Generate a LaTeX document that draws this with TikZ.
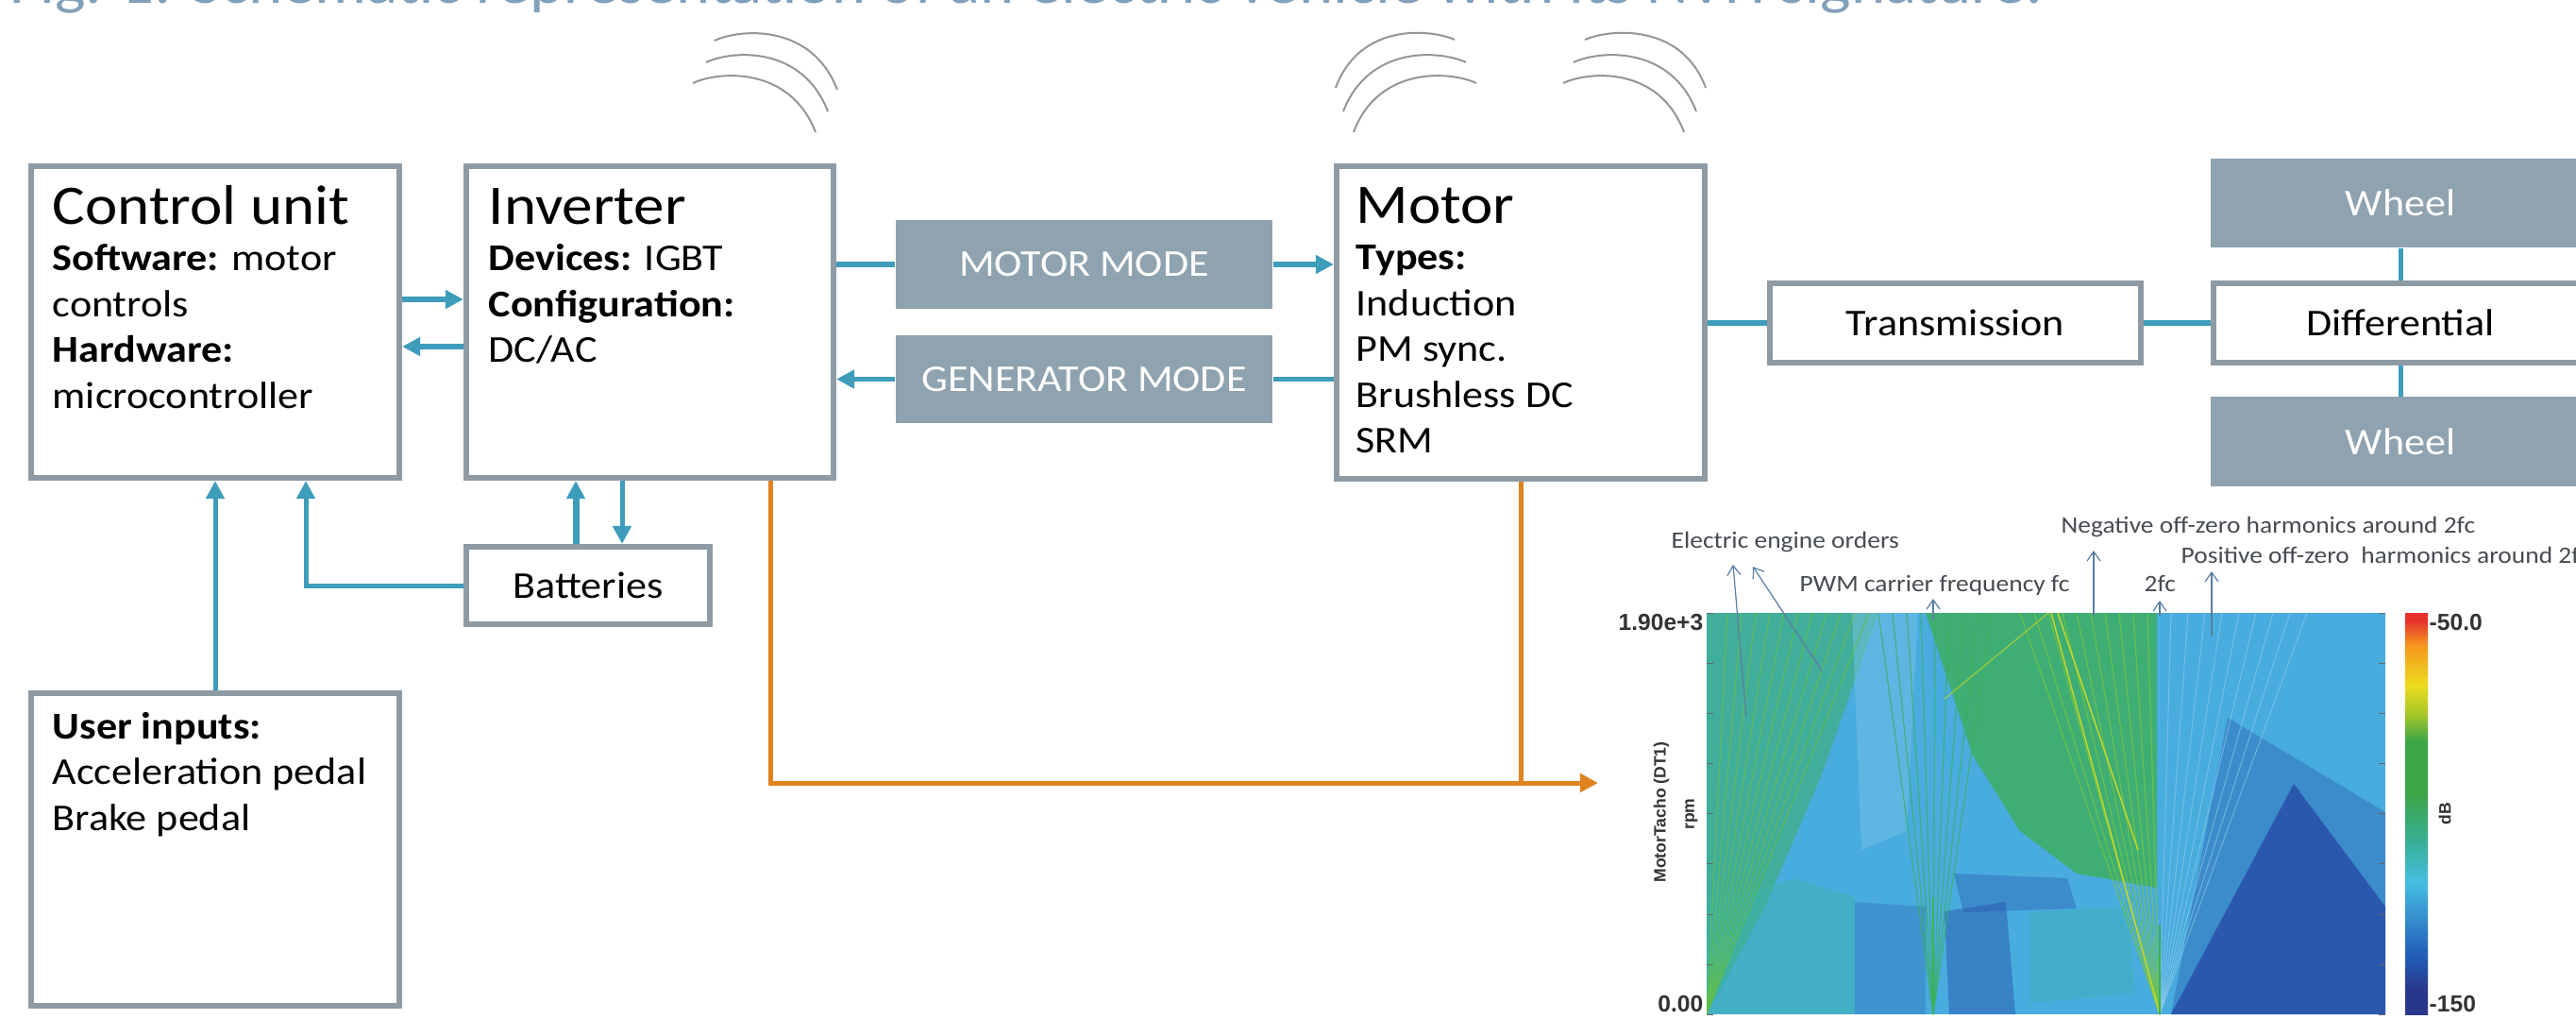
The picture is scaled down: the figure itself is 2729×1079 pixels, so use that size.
\documentclass[tikz,border=0pt]{standalone}
\usepackage{fontspec}
\setmainfont[FakeStretch=1.1]{Carlito}
\newfontfamily\axfont{Liberation Sans}
\usetikzlibrary{arrows.meta,calc}
\definecolor{boxgray}{RGB}{142,155,165}
\definecolor{fillgray}{RGB}{143,162,175}
\definecolor{conteal}{RGB}{62,157,187}
\definecolor{conorange}{RGB}{224,130,30}
\definecolor{titleblue}{RGB}{130,160,185}
\definecolor{arcgray}{RGB}{150,150,150}
\definecolor{annot}{RGB}{70,75,82}
\definecolor{annarrow}{RGB}{90,125,165}
\definecolor{spcyan}{RGB}{72,172,222}
\definecolor{spgreen}{RGB}{60,175,90}
\definecolor{spdark}{RGB}{40,80,170}
\definecolor{spteal}{RGB}{60,180,170}
\definecolor{spyellow}{RGB}{200,215,40}
\definecolor{jA}{RGB}{40,55,140}
\definecolor{jB}{RGB}{35,95,185}
\definecolor{jD}{RGB}{70,190,225}
\definecolor{jE}{RGB}{55,175,150}
\definecolor{jF}{RGB}{60,165,70}
\definecolor{jG}{RGB}{170,200,40}
\definecolor{jH}{RGB}{235,220,30}
\definecolor{jI}{RGB}{245,150,30}
\definecolor{jJ}{RGB}{230,50,45}
\pgfdeclareverticalshading{jetbar}{100bp}{color(0bp)=(jA); color(28bp)=(jA); color(32.5bp)=(jB); color(41.5bp)=(jD); color(46.5bp)=(jE); color(52.5bp)=(jF); color(59bp)=(jF); color(62.5bp)=(jG); color(66bp)=(jH); color(71bp)=(jI); color(74bp)=(jJ); color(100bp)=(jJ)}
\newcommand\tfnt{\fontsize{16.8pt}{20pt}\selectfont}
\newcommand\bfnt{\fontsize{11.4pt}{13.8pt}\selectfont}
\newcommand\afnt{\fontsize{7.1pt}{8.5pt}\selectfont}
\newcommand\xfnt{\axfont\bfseries\fontsize{7pt}{8pt}\selectfont}
\newcommand\yfnt{\axfont\bfseries\fontsize{5pt}{6pt}\selectfont}
\begin{document}
\begin{tikzpicture}[x=0.01cm, y=-0.01cm,
  wbox/.style={draw=boxgray, line width=0.06cm, fill=white, inner sep=0},
  gbox/.style={fill=fillgray, inner sep=0, text=white, font=\bfnt},
  txt/.style={inner sep=0, anchor=base west},
  con/.style={draw=conteal, line width=0.05cm},
  arr/.style={con, -{Triangle[length=0.19cm,width=0.19cm]}},
  ocon/.style={draw=conorange, line width=0.05cm},
  oarr/.style={ocon, -{Triangle[length=0.19cm,width=0.19cm]}},
  wave/.style={draw=arcgray, line width=0.02cm},
  ann/.style={inner sep=0, anchor=base west, text=annot, font=\afnt},
  annar/.style={draw=annarrow, line width=0.012cm, -{Straight Barb[length=0.1cm,width=0.14cm]}},
  axl/.style={inner sep=0, text=black!80, font=\xfnt},
  ayl/.style={inner sep=0, text=black!80, font=\yfnt}]
\useasboundingbox (0,0) rectangle (2729,1079);
\clip (0,0) rectangle (2729,1079);
\fill[white] (0,0) rectangle (2729,1079);

% title (clipped at top)
\node[inner sep=0, anchor=base west, text=titleblue, font=\fontsize{17.8pt}{20pt}\selectfont] (fig) at (10,4) {Fig. 1: Schematic representation of an electric vehicle with its NVH signature.};

% wave arcs
\draw[wave] (757,43) .. controls (785,30) and (860,25) .. (887,95);
\draw[wave] (748,66) .. controls (776,53) and (850,48) .. (877,118);
\draw[wave] (734,88) .. controls (762,75) and (837,70) .. (864,140);
\draw[wave] (1541,42) .. controls (1513,30) and (1440,25) .. (1415,93);
\draw[wave] (1553,66) .. controls (1525,53) and (1450,48) .. (1423,118);
\draw[wave] (1564,88) .. controls (1536,75) and (1460,70) .. (1434,140);
\draw[wave] (1679,42) .. controls (1707,30) and (1782,25) .. (1807,93);
\draw[wave] (1667,66) .. controls (1695,53) and (1770,48) .. (1797,118);
\draw[wave] (1656,88) .. controls (1684,75) and (1758,70) .. (1784,140);

% boxes
\node[wbox, minimum width=3.90cm, minimum height=3.30cm] (cu) at (228,341) {};
\node[wbox, minimum width=3.89cm, minimum height=3.30cm] (inv) at (688.5,341) {};
\node[wbox, minimum width=3.90cm, minimum height=3.31cm] (mot) at (1611,341.5) {};
\node[wbox, minimum width=3.90cm, minimum height=3.31cm] (ui) at (228,899.5) {};
\node[wbox, minimum width=2.58cm, minimum height=0.82cm, font=\bfnt] (bat) at (623,620) {Batteries};
\node[wbox, minimum width=3.93cm, minimum height=0.84cm, font=\bfnt] (tr) at (2071.5,342) {Transmission};
\node[wbox, minimum width=3.96cm, minimum height=0.84cm, font=\bfnt] (dif) at (2543,342) {Differential};
\node[gbox, minimum width=3.99cm, minimum height=0.94cm] (mm) at (1148.5,280) {MOTOR MODE};
\node[gbox, minimum width=3.99cm, minimum height=0.93cm] (gm) at (1148.5,401.5) {GENERATOR MODE};
\node[gbox, minimum width=4.02cm, minimum height=0.94cm] (w1) at (2543,215) {Wheel};
\node[gbox, minimum width=4.02cm, minimum height=0.94cm] (w2) at (2543,467.5) {Wheel};

% box texts
\node[txt] (cut) at (55,238) {\parbox[t]{3.7cm}{\raggedright\tfnt Control unit\par\bfnt\textbf{Software:} motor\\controls\\\textbf{Hardware:}\\microcontroller}};
\node[txt] (invt) at (517,238) {\parbox[t]{3.6cm}{\raggedright\tfnt Inverter\par\bfnt\textbf{Devices:} IGBT\\\textbf{Configuration:}\\DC/AC}};
\node[txt] (mott) at (1436,237) {\parbox[t]{3.6cm}{\raggedright\tfnt Motor\par\bfnt\textbf{Types:}\\Induction\\PM sync.\\Brushless DC\\SRM}};
\node[txt] (uit) at (55,782) {\parbox[t]{3.7cm}{\raggedright\bfnt\textbf{User inputs:}\\Acceleration pedal\\Brake pedal}};

% helper coordinates
\coordinate (bx1) at (610,0);
\coordinate (bx2) at (659,0);
\coordinate (ox) at (816,0);
\coordinate (bcu) at (324,0);
\coordinate (spec) at (1693,829);

% teal connectors
\draw[arr] ($(cu.east)+(0,-24)$) -- ($(inv.west)+(0,-24)$);
\draw[arr] ($(inv.west)+(0,26)$) -- ($(cu.east)+(0,26)$);
\draw[con] (inv.east |- mm.west) -- (mm.west);
\draw[arr] (mm.east) -- (mot.west |- mm.east);
\draw[con] (mot.west |- gm.east) -- (gm.east);
\draw[arr] (gm.west) -- (inv.east |- gm.west);
\draw[con] (mot.east |- tr.west) -- (tr.west);
\draw[con] (tr.east) -- (dif.west);
\draw[con] (dif.north) -- (w1.south);
\draw[con] (dif.south) -- (w2.north);
\draw[arr] (ui.north) -- (cu.south);
\draw[arr] (bat.west) -| (cu.south -| bcu);
\draw[arr, line width=0.07cm] (bat.north -| bx1) -- (inv.south -| bx1);
\draw[arr] (inv.south -| bx2) -- (bat.north -| bx2);

% orange connectors
\draw[oarr] (inv.south -| ox) |- (spec);
\draw[ocon] (mot.south) -- (mot.south |- spec);

% spectrogram
\fill[spcyan] (1808,649) rectangle (2527,1074);
\begin{scope}
\clip (1808,649) rectangle (2527,1074);
\fill[spgreen, opacity=0.5] (1808,649) -- (1990,649) -- (1930,820) -- (1870,960) -- (1808,1074) -- cycle;
\fill[spteal, opacity=0.45] (1808,960) -- (1900,930) -- (1965,950) -- (1965,1074) -- (1808,1074) -- cycle;
\fill[spcyan!75!white, opacity=0.5] (1962,649) -- (2032,649) -- (2020,880) -- (1972,900) -- cycle;
\fill[spgreen, opacity=0.8] (2040,649) -- (2285,649) -- (2285,940) -- (2200,925) -- (2140,880) -- (2090,800) -- cycle;
\fill[spdark, opacity=0.25] (1965,955) -- (2040,960) -- (2040,1074) -- (1965,1074) -- cycle;
\fill[spdark, opacity=0.45] (2060,965) -- (2125,955) -- (2135,1074) -- (2065,1074) -- cycle;
\fill[spdark, opacity=0.35] (2070,925) -- (2190,930) -- (2200,962) -- (2080,966) -- cycle;
\fill[spteal, opacity=0.35] (2150,966) -- (2255,960) -- (2262,1052) -- (2150,1062) -- cycle;
\fill[spdark, opacity=0.35] (2360,760) -- (2300,1074) -- (2527,1074) -- (2527,860) -- cycle;
\fill[spdark, opacity=0.85] (2430,830) -- (2300,1074) -- (2527,1074) -- (2527,960) -- cycle;
\foreach \t in {1830,1845,...,1990} \draw[spgreen!80!yellow, line width=0.012cm, opacity=0.75] (1808,1074) -- (\t,649);
\foreach \t in {1990,2005,...,2110} \draw[spgreen, line width=0.012cm, opacity=0.75] (2048,1074) -- (\t,649);
\foreach \t in {2140,2155,...,2280} \draw[spgreen!70!yellow, line width=0.012cm, opacity=0.75] (2288,1074) -- (\t,649);
\foreach \t in {2300,2318,...,2450} \draw[spcyan!60!white, line width=0.01cm, opacity=0.6] (2288,1074) -- (\t,649);
\draw[spyellow, line width=0.015cm] (2173,649) -- (2288,1074);
\draw[spyellow, line width=0.015cm] (2180,649) -- (2265,900);
\draw[spyellow, line width=0.012cm, opacity=0.7] (2170,649) -- (2060,740);
\draw[spgreen, line width=0.02cm] (2048,950) -- (2048,1074);
\draw[spgreen, line width=0.02cm] (2288,980) -- (2288,1074);
\end{scope}
\foreach \yy in {649,702,755,808,861,914,968,1021,1074} {
  \draw[black!60, line width=0.01cm] (1808,\yy) -- (1815,\yy);
  \draw[black!60, line width=0.01cm] (2527,\yy) -- (2520,\yy);
}
\shade[shading=jetbar] (2548,649) rectangle (2572,1074);

% axis labels
\node[axl, anchor=east] (l190) at (1805,659) {1.90e+3};
\node[axl, anchor=east] (l000) at (1805,1063) {0.00};
\node[axl, anchor=west] (c50) at (2573,659) {-50.0};
\node[axl, anchor=west] (c150) at (2573,1063) {-150};
\node[ayl, rotate=90] (db) at (2590,862) {dB};
\node[ayl, rotate=90] (mt) at (1760,860) {MotorTacho (DT1)};
\node[ayl, rotate=90] (rpm) at (1792,862) {rpm};

% annotations
\node[ann] (eeo) at (1770,580) {Electric engine orders};
\node[ann] (pwm) at (1906,626) {PWM carrier frequency fc};
\node[ann] (tfc) at (2271,626) {2fc};
\node[ann] (neg) at (2183,564) {Negative off-zero harmonics around 2fc};
\node[ann] (pos) at (2310,596) {Positive off-zero\ \ harmonics around 2fc};
\draw[annar] (1850,760) -- (1836,598);
\draw[annar] (1930,710) -- (1857,600);
\draw[annar] (2048,656) -- (2048,634);
\draw[annar] (2218,652) -- (2218,583);
\draw[annar] (2288,652) -- (2288,636);
\draw[annar] (2343,673) -- (2343,605);
\end{tikzpicture}
\end{document}
